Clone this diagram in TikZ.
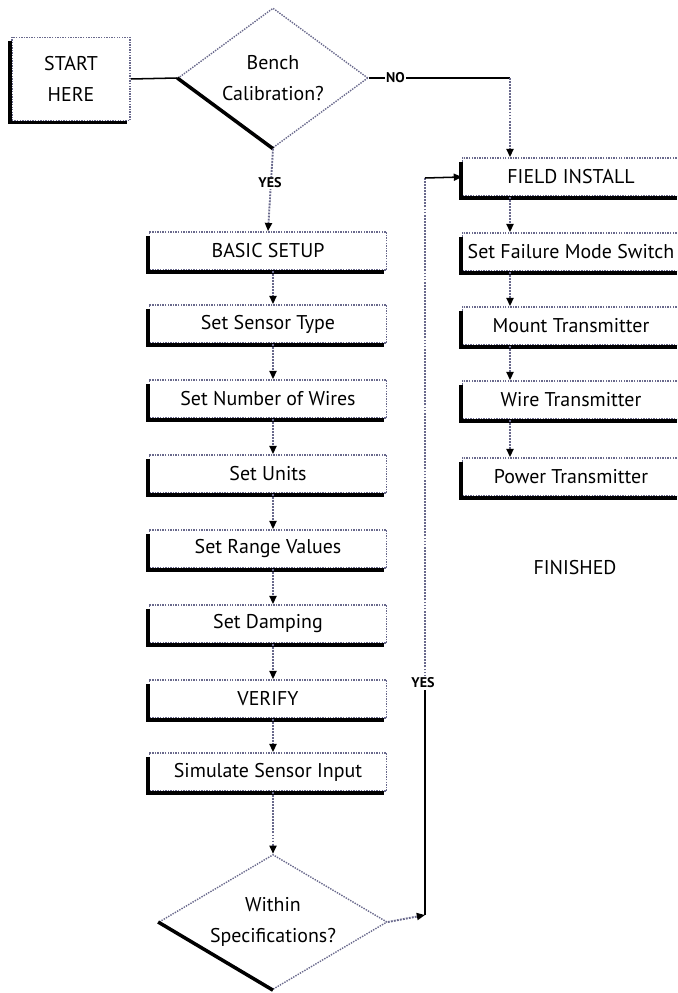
\documentclass[tikz,border=0pt]{standalone}
\usepackage{fontspec}
\setmainfont{PT Sans}
\usetikzlibrary{arrows.meta,shapes.geometric,positioning}
\definecolor{dotgrey}{RGB}{105,105,140}

\begin{document}
\begin{tikzpicture}[x=0.03cm,y=-0.03cm,
	font=\fontsize{17}{26}\selectfont,
	block/.style={rectangle,draw=dotgrey,densely dotted,line width=1.2pt,minimum width=7.1cm,minimum height=1.15cm,inner sep=0pt},
	decision/.style={diamond,draw=dotgrey,densely dotted,line width=1.2pt,align=center,inner sep=0pt},
	flowline/.style={draw=dotgrey,densely dotted,line width=1.6pt,-{Triangle[color=black,length=7pt,width=6pt]}},
	dotline/.style={draw=dotgrey,densely dotted,line width=1.6pt},
	plain/.style={black,line width=1.3pt},
	shadowline/.style={black,line width=3pt},
	flag/.style={font=\fontsize{12}{14}\selectfont\bfseries,fill=white,inner sep=1pt}]
	\clip (0,0) rectangle (677,993);
	% start and first question
	\node[block,minimum width=3.55cm,minimum height=2.5cm,align=center] (start) at (71,79) {START\\HERE};
	\node[decision,aspect=1.4,minimum width=5.7cm,minimum height=4.2cm] (bench) at (273,78) {Bench\\Calibration?};
	% bench setup column
	\node[block] (basic) at (268,251) {BASIC SETUP};
	\node[block] (sensor) at (268,324) {Set Sensor Type};
	\node[block] (wires) at (268,399) {Set Number of Wires};
	\node[block] (units) at (268,474) {Set Units};
	\node[block] (range) at (268,549) {Set Range Values};
	\node[block] (damping) at (268,624) {Set Damping};
	\node[block] (verify) at (268,699) {VERIFY};
	\node[block] (simulate) at (268,772) {Simulate Sensor Input};
	\node[decision,aspect=1.7,minimum width=6.85cm,minimum height=4.05cm] (within) at (273,922) {Within\\Specifications?};
	% field column
	\node[block,minimum width=6.5cm] (field) at (571,177) {FIELD INSTALL};
	\node[block,minimum width=6.5cm] (failure) at (571,252) {Set Failure Mode Switch};
	\node[block,minimum width=6.5cm] (mount) at (571,326) {Mount Transmitter};
	\node[block,minimum width=6.5cm] (wiretx) at (571,400) {Wire Transmitter};
	\node[block,minimum width=6.5cm] (power) at (571,477) {Power Transmitter};
	\node (finished) at (575,568) {FINISHED};
	% heavy left and bottom edges
	\foreach \n in {start,basic,sensor,wires,units,range,damping,verify,simulate,field,failure,mount,wiretx,power}
		\draw[shadowline] ([xshift=-1pt,yshift=-4pt]\n.north west) |- ([xshift=-3pt,yshift=-1pt]\n.south east);
	\draw[shadowline] (bench.west) -- (bench.south);
	\draw[shadowline] (within.west) -- (within.south);
	% connectors
	\coordinate (nocorner) at (510,78);
	\coordinate (loopbot) at (425,915);
	\coordinate (looptop) at (425,178);
	\draw[plain] (start.east) -- (bench.west);
	\draw[plain] (bench.east) -- node[flag,pos=0.19]{NO} (nocorner);
	\draw[flowline] (nocorner) -- (nocorner |- field.north);
	\draw[flowline] (bench.south) -- (basic.north);
	\node[flag] at (270,183) {YES};
	\foreach \a/\b in {basic/sensor,sensor/wires,wires/units,units/range,range/damping,damping/verify,verify/simulate,simulate/within}
		\draw[flowline] (\a.south -| bench.south) -- (\b.north -| bench.south);
	\foreach \a/\b in {field/failure,failure/mount,mount/wiretx,wiretx/power}
		\draw[flowline] (\a.south -| nocorner) -- (\b.north -| nocorner);
	\draw[flowline] (within.east) -- (loopbot);
	\node[flag] (yes2) at (423,683) {YES};
	\draw[plain] (loopbot) -- (loopbot |- yes2.south);
	\draw[dotline] (loopbot |- yes2.north) -- (looptop);
	\draw[plain,-{Triangle[length=7pt,width=6pt]}] (looptop) -- (field.west);
\end{tikzpicture}
\end{document}
